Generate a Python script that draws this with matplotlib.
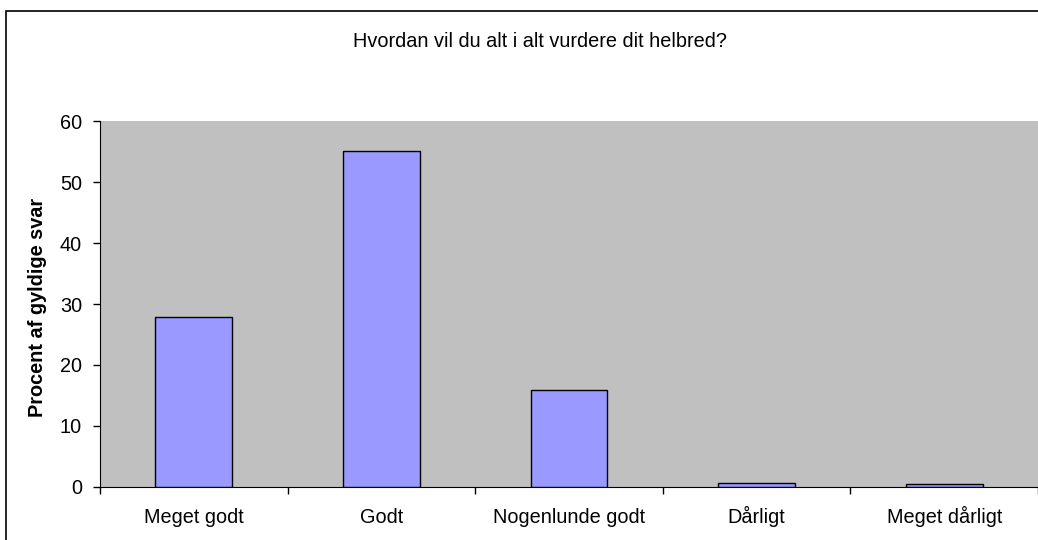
import numpy as np
import matplotlib
matplotlib.use("Agg")
import matplotlib.pyplot as plt
from matplotlib.patches import Rectangle

plt.rcParams['font.family'] = ['Liberation Sans', 'DejaVu Sans']

# data
categories = ["Meget godt", "Godt", "Nogenlunde godt", "Dårligt", "Meget dårligt"]
values = [27.9, 55.2, 15.9, 0.65, 0.45]
yticks = [0, 10, 20, 30, 40, 50, 60]

fs = 14.3

fig = plt.figure(figsize=(10.38, 5.40), dpi=100)
ax = fig.add_axes([100 / 1038, 1 - 486.7 / 540, 938 / 1038, 365.4 / 540])

x = np.arange(len(categories))
ax.bar(x, values, width=0.41, color="#9999FF", edgecolor="black", linewidth=1.0, zorder=3)

ax.set_facecolor("#C0C0C0")
ax.set_xlim(-0.5, len(categories) - 0.5)
ax.set_ylim(0, 60)
ax.set_yticks(yticks)
ax.tick_params(axis="y", direction="out", length=5, width=1, pad=8, labelsize=fs)

# ticks between categories, labels under the categories
ax.set_xticks(np.arange(-0.5, len(categories)), labels=[])
ax.set_xticks(x, minor=True)
ax.set_xticklabels(categories, minor=True, va="baseline")
ax.tick_params(axis="x", which="major", direction="out", length=5, width=1)
ax.tick_params(axis="x", which="minor", length=0, pad=26.3, labelsize=fs)

for side in ["top", "right"]:
    ax.spines[side].set_visible(False)
ax.spines["left"].set_color("black")
ax.spines["bottom"].set_color("black")

fig.text(38 / 1038, 1 - 307 / 540, "Procent af gyldige svar", rotation=90,
         ha="center", va="center", fontsize=fs, fontweight="bold")
fig.text(540 / 1038, 1 - 42 / 540, "Hvordan vil du alt i alt vurdere dit helbred?",
         ha="center", va="center", fontsize=fs)

# outer chart frame (cropped on right and bottom)
fig.patches.append(Rectangle((6 / 1038, -0.2), 2, 1 - 11 / 540 + 0.2,
                             transform=fig.transFigure, fill=False,
                             edgecolor="black", linewidth=1.2))

fig.savefig("out.png", dpi=100)
